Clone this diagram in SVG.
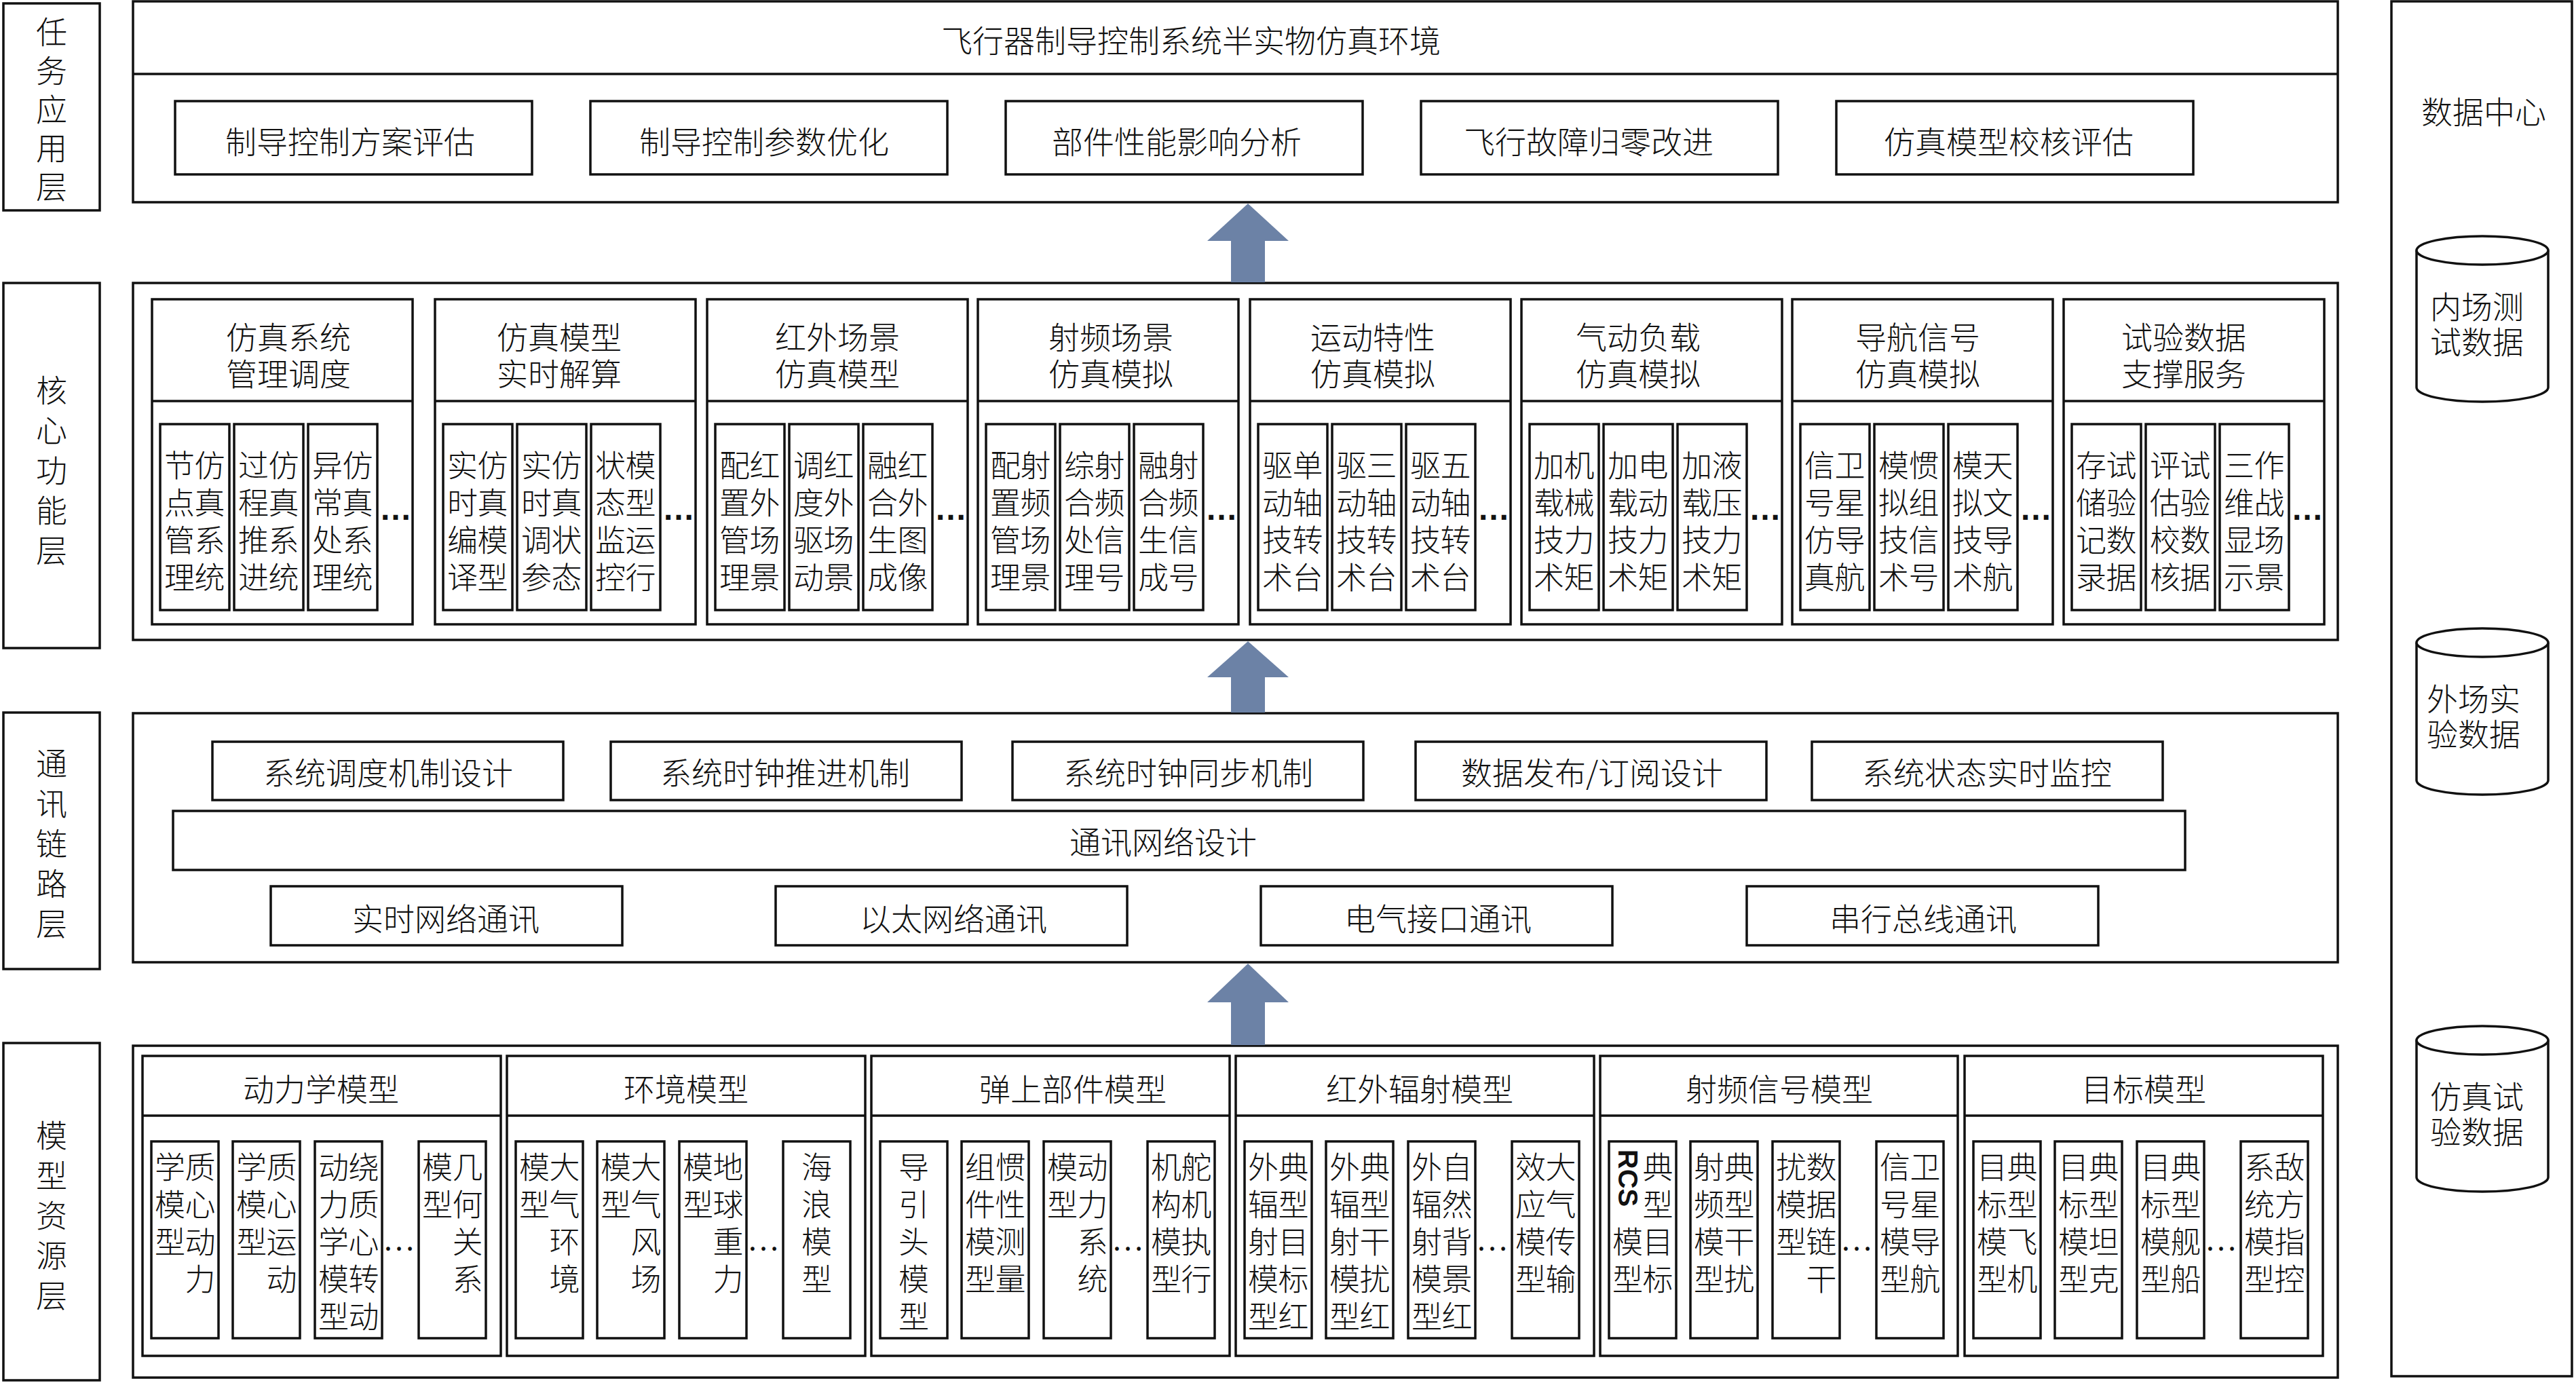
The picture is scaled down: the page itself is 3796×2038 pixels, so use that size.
<svg xmlns="http://www.w3.org/2000/svg" width="3796" height="2038" viewBox="0 0 3796 2038">
<style>
.b{fill:#fff;stroke:#111;stroke-width:3.5}
.l{fill:none;stroke:#111;stroke-width:3.5}
.t{font-family:"Noto Sans CJK SC","Noto Sans CJK JP",sans-serif;font-size:46px;font-weight:300;fill:#111;text-anchor:middle;dominant-baseline:central}
.s{font-size:45px}
.d{font-family:"Liberation Sans",Arial,sans-serif;font-weight:bold;font-size:48px;fill:#111;text-anchor:middle}
.dm{font-family:"Liberation Serif","Times New Roman",serif;font-size:48px;fill:#111;text-anchor:middle}
.rcs{font-family:"Liberation Sans",Arial,sans-serif;font-weight:bold;font-size:40px;fill:#111;text-anchor:middle;dominant-baseline:central}
.ar{fill:#6C82A6}
</style>

<g id="labels">
<g id="label-task"><rect class="b" x="5" y="5" width="142" height="305"/>
<text class="t" x="76 76 76 76 76" y="44 101 158 215 272">任务应用层</text></g>
<g id="label-core"><rect class="b" x="5" y="417" width="142" height="538"/>
<text class="t" x="76 76 76 76 76" y="572 631 690 749 808">核心功能层</text></g>
<g id="label-comm"><rect class="b" x="5" y="1050" width="142" height="378"/>
<text class="t" x="76 76 76 76 76" y="1122 1181 1240 1299 1358">通讯链路层</text></g>
<g id="label-model"><rect class="b" x="5" y="1537" width="142" height="497"/>
<text class="t" x="76 76 76 76 76" y="1670 1729 1788 1847 1906">模型资源层</text></g>
</g>

<g id="datacenter">
<rect class="b" x="3524" y="2" width="266" height="2026"/>
<text class="t" x="3660" y="162">数据中心</text>
<g id="db-inner">
<path class="b" d="M3561 369 V571 A97 21 0 0 0 3755 571 V369"/><ellipse class="b" cx="3658" cy="369" rx="97" ry="21"/>
<text class="t" x="3604 3650 3696 3604 3650 3696" y="449 449 449 501 501 501">内场测试数据</text></g>
<g id="db-outer">
<path class="b" d="M3561 947 V1150 A97 21 0 0 0 3755 1150 V947"/><ellipse class="b" cx="3658" cy="947" rx="97" ry="21"/>
<text class="t" x="3599 3645 3691 3599 3645 3691" y="1027 1027 1027 1079 1079 1079">外场实验数据</text></g>
<g id="db-sim">
<path class="b" d="M3561 1533 V1735 A97 21 0 0 0 3755 1735 V1533"/><ellipse class="b" cx="3658" cy="1533" rx="97" ry="21"/>
<text class="t" x="3604 3650 3696 3604 3650 3696" y="1613 1613 1613 1665 1665 1665">仿真试验数据</text></g>
</g>

<g id="layer-task">
<rect class="b" x="196" y="2" width="3249" height="296"/>
<line class="l" x1="196" y1="109" x2="3445" y2="109"/>
<text class="t" x="1755" y="57">飞行器制导控制系统半实物仿真环境</text>
<g id="task-1"><rect class="b" x="258" y="149" width="526" height="108"/><text class="t" x="516" y="206">制导控制方案评估</text></g>
<g id="task-2"><rect class="b" x="870" y="149" width="526" height="108"/><text class="t" x="1126" y="206">制导控制参数优化</text></g>
<g id="task-3"><rect class="b" x="1482" y="149" width="526" height="108"/><text class="t" x="1734" y="206">部件性能影响分析</text></g>
<g id="task-4"><rect class="b" x="2094" y="149" width="526" height="108"/><text class="t" x="2341" y="206">飞行故障归零改进</text></g>
<g id="task-5"><rect class="b" x="2706" y="149" width="526" height="108"/><text class="t" x="2960" y="206">仿真模型校核评估</text></g>
</g>

<g id="layer-core">
<rect class="b" x="196" y="417" width="3249" height="526"/>

<g id="core-1"><rect class="b" x="224" y="441" width="384" height="479"/><line class="l" x1="224" y1="591" x2="608" y2="591"/>
<text class="t" x="356 402 448 494 356 402 448 494" y="494 494 494 494 548 548 548 548">仿真系统管理调度</text>
<rect class="b" x="236" y="625" width="102" height="274"/><rect class="b" x="345" y="625" width="102" height="274"/><rect class="b" x="454" y="625" width="102" height="274"/>
<text class="t s" x="309 309 309 309 264.5 264.5 264.5 264.5" y="683 738 793 848 683 738 793 848">仿真系统节点管理</text>
<text class="t s" x="418 418 418 418 373.5 373.5 373.5 373.5" y="683 738 793 848 683 738 793 848">仿真系统过程推进</text>
<text class="t s" x="527 527 527 527 482.5 482.5 482.5 482.5" y="683 738 793 848 683 738 793 848">仿真系统异常处理</text>
<text class="d" x="583" y="766">…</text></g>

<g id="core-2"><rect class="b" x="641" y="441" width="384" height="479"/><line class="l" x1="641" y1="591" x2="1025" y2="591"/>
<text class="t" x="755 801 847 893 755 801 847 893" y="494 494 494 494 548 548 548 548">仿真模型实时解算</text>
<rect class="b" x="653" y="625" width="102" height="274"/><rect class="b" x="762" y="625" width="102" height="274"/><rect class="b" x="871" y="625" width="102" height="274"/>
<text class="t s" x="726 726 726 726 681.5 681.5 681.5 681.5" y="683 738 793 848 683 738 793 848">仿真模型实时编译</text>
<text class="t s" x="835 835 835 835 790.5 790.5 790.5 790.5" y="683 738 793 848 683 738 793 848">仿真状态实时调参</text>
<text class="t s" x="944 944 944 944 899.5 899.5 899.5 899.5" y="683 738 793 848 683 738 793 848">模型运行状态监控</text>
<text class="d" x="1000" y="766">…</text></g>

<g id="core-3"><rect class="b" x="1042" y="441" width="384" height="479"/><line class="l" x1="1042" y1="591" x2="1426" y2="591"/>
<text class="t" x="1165 1211 1257 1303 1165 1211 1257 1303" y="494 494 494 494 548 548 548 548">红外场景仿真模型</text>
<rect class="b" x="1054" y="625" width="102" height="274"/><rect class="b" x="1163" y="625" width="102" height="274"/><rect class="b" x="1272" y="625" width="102" height="274"/>
<text class="t s" x="1127 1127 1127 1127 1082.5 1082.5 1082.5 1082.5" y="683 738 793 848 683 738 793 848">红外场景配置管理</text>
<text class="t s" x="1236 1236 1236 1236 1191.5 1191.5 1191.5 1191.5" y="683 738 793 848 683 738 793 848">红外场景调度驱动</text>
<text class="t s" x="1345 1345 1345 1345 1300.5 1300.5 1300.5 1300.5" y="683 738 793 848 683 738 793 848">红外图像融合生成</text>
<text class="d" x="1401" y="766">…</text></g>

<g id="core-4"><rect class="b" x="1441" y="441" width="384" height="479"/><line class="l" x1="1441" y1="591" x2="1825" y2="591"/>
<text class="t" x="1568 1614 1660 1706 1568 1614 1660 1706" y="494 494 494 494 548 548 548 548">射频场景仿真模拟</text>
<rect class="b" x="1453" y="625" width="102" height="274"/><rect class="b" x="1562" y="625" width="102" height="274"/><rect class="b" x="1671" y="625" width="102" height="274"/>
<text class="t s" x="1526 1526 1526 1526 1481.5 1481.5 1481.5 1481.5" y="683 738 793 848 683 738 793 848">射频场景配置管理</text>
<text class="t s" x="1635 1635 1635 1635 1590.5 1590.5 1590.5 1590.5" y="683 738 793 848 683 738 793 848">射频信号综合处理</text>
<text class="t s" x="1744 1744 1744 1744 1699.5 1699.5 1699.5 1699.5" y="683 738 793 848 683 738 793 848">射频信号融合生成</text>
<text class="d" x="1800" y="766">…</text></g>

<g id="core-5"><rect class="b" x="1842" y="441" width="384" height="479"/><line class="l" x1="1842" y1="591" x2="2226" y2="591"/>
<text class="t" x="1954 2000 2046 2092 1954 2000 2046 2092" y="494 494 494 494 548 548 548 548">运动特性仿真模拟</text>
<rect class="b" x="1854" y="625" width="102" height="274"/><rect class="b" x="1963" y="625" width="102" height="274"/><rect class="b" x="2072" y="625" width="102" height="274"/>
<text class="t s" x="1927 1927 1927 1927 1882.5 1882.5 1882.5 1882.5" y="683 738 793 848 683 738 793 848">单轴转台驱动技术</text>
<text class="t s" x="2036 2036 2036 2036 1991.5 1991.5 1991.5 1991.5" y="683 738 793 848 683 738 793 848">三轴转台驱动技术</text>
<text class="t s" x="2145 2145 2145 2145 2100.5 2100.5 2100.5 2100.5" y="683 738 793 848 683 738 793 848">五轴转台驱动技术</text>
<text class="d" x="2201" y="766">…</text></g>

<g id="core-6"><rect class="b" x="2242" y="441" width="384" height="479"/><line class="l" x1="2242" y1="591" x2="2626" y2="591"/>
<text class="t" x="2345 2391 2437 2483 2345 2391 2437 2483" y="494 494 494 494 548 548 548 548">气动负载仿真模拟</text>
<rect class="b" x="2254" y="625" width="102" height="274"/><rect class="b" x="2363" y="625" width="102" height="274"/><rect class="b" x="2472" y="625" width="102" height="274"/>
<text class="t s" x="2327 2327 2327 2327 2282.5 2282.5 2282.5 2282.5" y="683 738 793 848 683 738 793 848">机械力矩加载技术</text>
<text class="t s" x="2436 2436 2436 2436 2391.5 2391.5 2391.5 2391.5" y="683 738 793 848 683 738 793 848">电动力矩加载技术</text>
<text class="t s" x="2545 2545 2545 2545 2500.5 2500.5 2500.5 2500.5" y="683 738 793 848 683 738 793 848">液压力矩加载技术</text>
<text class="d" x="2601" y="766">…</text></g>

<g id="core-7"><rect class="b" x="2641" y="441" width="384" height="479"/><line class="l" x1="2641" y1="591" x2="3025" y2="591"/>
<text class="t" x="2757 2803 2849 2895 2757 2803 2849 2895" y="494 494 494 494 548 548 548 548">导航信号仿真模拟</text>
<rect class="b" x="2653" y="625" width="102" height="274"/><rect class="b" x="2762" y="625" width="102" height="274"/><rect class="b" x="2871" y="625" width="102" height="274"/>
<text class="t s" x="2726 2726 2726 2726 2681.5 2681.5 2681.5 2681.5" y="683 738 793 848 683 738 793 848">卫星导航信号仿真</text>
<text class="t s" x="2835 2835 2835 2835 2790.5 2790.5 2790.5 2790.5" y="683 738 793 848 683 738 793 848">惯组信号模拟技术</text>
<text class="t s" x="2944 2944 2944 2944 2899.5 2899.5 2899.5 2899.5" y="683 738 793 848 683 738 793 848">天文导航模拟技术</text>
<text class="d" x="3000" y="766">…</text></g>

<g id="core-8"><rect class="b" x="3041" y="441" width="384" height="479"/><line class="l" x1="3041" y1="591" x2="3425" y2="591"/>
<text class="t" x="3149 3195 3241 3287 3149 3195 3241 3287" y="494 494 494 494 548 548 548 548">试验数据支撑服务</text>
<rect class="b" x="3053" y="625" width="102" height="274"/><rect class="b" x="3162" y="625" width="102" height="274"/><rect class="b" x="3271" y="625" width="102" height="274"/>
<text class="t s" x="3126 3126 3126 3126 3081.5 3081.5 3081.5 3081.5" y="683 738 793 848 683 738 793 848">试验数据存储记录</text>
<text class="t s" x="3235 3235 3235 3235 3190.5 3190.5 3190.5 3190.5" y="683 738 793 848 683 738 793 848">试验数据评估校核</text>
<text class="t s" x="3344 3344 3344 3344 3299.5 3299.5 3299.5 3299.5" y="683 738 793 848 683 738 793 848">作战场景三维显示</text>
<text class="d" x="3400" y="766">…</text></g>
</g>

<g id="layer-comm">
<rect class="b" x="196" y="1051" width="3249" height="367"/>
<g id="comm-1"><rect class="b" x="313" y="1093" width="517" height="86"/><text class="t" x="572" y="1136">系统调度机制设计</text></g>
<g id="comm-2"><rect class="b" x="900" y="1093" width="517" height="86"/><text class="t" x="1157" y="1136">系统时钟推进机制</text></g>
<g id="comm-3"><rect class="b" x="1492" y="1093" width="517" height="86"/><text class="t" x="1751" y="1136">系统时钟同步机制</text></g>
<g id="comm-4"><rect class="b" x="2086" y="1093" width="517" height="86"/><text class="t" x="2346" y="1136">数据发布/订阅设计</text></g>
<g id="comm-5"><rect class="b" x="2670" y="1093" width="517" height="86"/><text class="t" x="2928" y="1136">系统状态实时监控</text></g>
<g id="comm-net"><rect class="b" x="255" y="1195" width="2965" height="87"/><text class="t" x="1714" y="1238">通讯网络设计</text></g>
<g id="comm-6"><rect class="b" x="399" y="1306" width="518" height="87"/><text class="t" x="657" y="1351">实时网络通讯</text></g>
<g id="comm-7"><rect class="b" x="1143" y="1306" width="518" height="87"/><text class="t" x="1405" y="1351">以太网络通讯</text></g>
<g id="comm-8"><rect class="b" x="1858" y="1306" width="518" height="87"/><text class="t" x="2119" y="1351">电气接口通讯</text></g>
<g id="comm-9"><rect class="b" x="2574" y="1306" width="518" height="87"/><text class="t" x="2834" y="1351">串行总线通讯</text></g>
</g>

<g id="layer-model">
<rect class="b" x="196" y="1541" width="3249" height="489"/>

<g id="model-1"><rect class="b" x="210" y="1556" width="528" height="442"/><line class="l" x1="210" y1="1644" x2="738" y2="1644"/>
<text class="t" x="473" y="1602">动力学模型</text>
<rect class="b" x="223" y="1682" width="99" height="290"/><rect class="b" x="343" y="1682" width="99" height="290"/><rect class="b" x="464" y="1682" width="99" height="290"/><rect class="b" x="617" y="1682" width="99" height="290"/>
<text class="t s" x="295 295 295 295 250.5 250.5 250.5" y="1717 1772 1827 1882 1717 1772 1827">质心动力学模型</text>
<text class="t s" x="415 415 415 415 370.5 370.5 370.5" y="1717 1772 1827 1882 1717 1772 1827">质心运动学模型</text>
<text class="t s" x="536 536 536 536 536 491.5 491.5 491.5 491.5 491.5" y="1717 1772 1827 1882 1937 1717 1772 1827 1882 1937">绕质心转动动力学模型</text>
<text class="t s" x="689 689 689 689 644.5 644.5" y="1717 1772 1827 1882 1717 1772">几何关系模型</text>
<text class="dm" x="588" y="1843">…</text></g>

<g id="model-2"><rect class="b" x="747" y="1556" width="528" height="442"/><line class="l" x1="747" y1="1644" x2="1275" y2="1644"/>
<text class="t" x="1011" y="1602">环境模型</text>
<rect class="b" x="760" y="1682" width="99" height="290"/><rect class="b" x="880" y="1682" width="99" height="290"/><rect class="b" x="1001" y="1682" width="99" height="290"/><rect class="b" x="1154" y="1682" width="99" height="290"/>
<text class="t s" x="832 832 832 832 787.5 787.5" y="1717 1772 1827 1882 1717 1772">大气环境模型</text>
<text class="t s" x="952 952 952 952 907.5 907.5" y="1717 1772 1827 1882 1717 1772">大气风场模型</text>
<text class="t s" x="1073 1073 1073 1073 1028.5 1028.5" y="1717 1772 1827 1882 1717 1772">地球重力模型</text>
<text class="t s" x="1203.5 1203.5 1203.5 1203.5" y="1717 1772 1827 1882">海浪模型</text>
<text class="dm" x="1125" y="1843">…</text></g>

<g id="model-3"><rect class="b" x="1284" y="1556" width="528" height="442"/><line class="l" x1="1284" y1="1644" x2="1812" y2="1644"/>
<text class="t" x="1581" y="1602">弹上部件模型</text>
<rect class="b" x="1297" y="1682" width="99" height="290"/><rect class="b" x="1417" y="1682" width="99" height="290"/><rect class="b" x="1538" y="1682" width="99" height="290"/><rect class="b" x="1691" y="1682" width="99" height="290"/>
<text class="t s" x="1346.5 1346.5 1346.5 1346.5 1346.5" y="1717 1772 1827 1882 1937">导引头模型</text>
<text class="t s" x="1489 1489 1489 1489 1444.5 1444.5 1444.5 1444.5" y="1717 1772 1827 1882 1717 1772 1827 1882">惯性测量组件模型</text>
<text class="t s" x="1610 1610 1610 1610 1565.5 1565.5" y="1717 1772 1827 1882 1717 1772">动力系统模型</text>
<text class="t s" x="1763 1763 1763 1763 1718.5 1718.5 1718.5 1718.5" y="1717 1772 1827 1882 1717 1772 1827 1882">舵机执行机构模型</text>
<text class="dm" x="1662" y="1843">…</text></g>

<g id="model-4"><rect class="b" x="1821" y="1556" width="528" height="442"/><line class="l" x1="1821" y1="1644" x2="2349" y2="1644"/>
<text class="t" x="2092" y="1602">红外辐射模型</text>
<rect class="b" x="1834" y="1682" width="99" height="290"/><rect class="b" x="1954" y="1682" width="99" height="290"/><rect class="b" x="2075" y="1682" width="99" height="290"/><rect class="b" x="2228" y="1682" width="99" height="290"/>
<text class="t s" x="1906 1906 1906 1906 1906 1861.5 1861.5 1861.5 1861.5 1861.5" y="1717 1772 1827 1882 1937 1717 1772 1827 1882 1937">典型目标红外辐射模型</text>
<text class="t s" x="2026 2026 2026 2026 2026 1981.5 1981.5 1981.5 1981.5 1981.5" y="1717 1772 1827 1882 1937 1717 1772 1827 1882 1937">典型干扰红外辐射模型</text>
<text class="t s" x="2147 2147 2147 2147 2147 2102.5 2102.5 2102.5 2102.5 2102.5" y="1717 1772 1827 1882 1937 1717 1772 1827 1882 1937">自然背景红外辐射模型</text>
<text class="t s" x="2300 2300 2300 2300 2255.5 2255.5 2255.5 2255.5" y="1717 1772 1827 1882 1717 1772 1827 1882">大气传输效应模型</text>
<text class="dm" x="2199" y="1843">…</text></g>

<g id="model-5"><rect class="b" x="2358" y="1556" width="527" height="442"/><line class="l" x1="2358" y1="1644" x2="2885" y2="1644"/>
<text class="t" x="2622" y="1602">射频信号模型</text>
<rect class="b" x="2371" y="1682" width="99" height="290"/><rect class="b" x="2491" y="1682" width="99" height="290"/><rect class="b" x="2612" y="1682" width="99" height="290"/><rect class="b" x="2765" y="1682" width="99" height="290"/>
<text class="t s" x="2443 2443 2443 2443" y="1717 1772 1827 1882">典型目标</text>
<text class="rcs" transform="translate(2399 1736) rotate(90)">RCS</text>
<text class="t s" x="2398.5 2398.5" y="1827 1882">模型</text>
<text class="t s" x="2563 2563 2563 2563 2518.5 2518.5 2518.5 2518.5" y="1717 1772 1827 1882 1717 1772 1827 1882">典型干扰射频模型</text>
<text class="t s" x="2684 2684 2684 2684 2639.5 2639.5 2639.5" y="1717 1772 1827 1882 1717 1772 1827">数据链干扰模型</text>
<text class="t s" x="2837 2837 2837 2837 2792.5 2792.5 2792.5 2792.5" y="1717 1772 1827 1882 1717 1772 1827 1882">卫星导航信号模型</text>
<text class="dm" x="2736" y="1843">…</text></g>

<g id="model-6"><rect class="b" x="2895" y="1556" width="528" height="442"/><line class="l" x1="2895" y1="1644" x2="3423" y2="1644"/>
<text class="t" x="3159" y="1602">目标模型</text>
<rect class="b" x="2908" y="1682" width="99" height="290"/><rect class="b" x="3028" y="1682" width="99" height="290"/><rect class="b" x="3149" y="1682" width="99" height="290"/><rect class="b" x="3302" y="1682" width="99" height="290"/>
<text class="t s" x="2980 2980 2980 2980 2935.5 2935.5 2935.5 2935.5" y="1717 1772 1827 1882 1717 1772 1827 1882">典型飞机目标模型</text>
<text class="t s" x="3100 3100 3100 3100 3055.5 3055.5 3055.5 3055.5" y="1717 1772 1827 1882 1717 1772 1827 1882">典型坦克目标模型</text>
<text class="t s" x="3221 3221 3221 3221 3176.5 3176.5 3176.5 3176.5" y="1717 1772 1827 1882 1717 1772 1827 1882">典型舰船目标模型</text>
<text class="t s" x="3374 3374 3374 3374 3329.5 3329.5 3329.5 3329.5" y="1717 1772 1827 1882 1717 1772 1827 1882">敌方指控系统模型</text>
<text class="dm" x="3273" y="1843">…</text></g>
</g>

<g id="connectors">
<polygon class="ar" points="1839,300 1899,355 1864,355 1864,416 1814,416 1814,355 1779,355"/>
<polygon class="ar" points="1839,945 1899,998 1864,998 1864,1050 1814,1050 1814,998 1779,998"/>
<polygon class="ar" points="1839,1420 1899,1477 1864,1477 1864,1540 1814,1540 1814,1477 1779,1477"/>
</g>
</svg>
